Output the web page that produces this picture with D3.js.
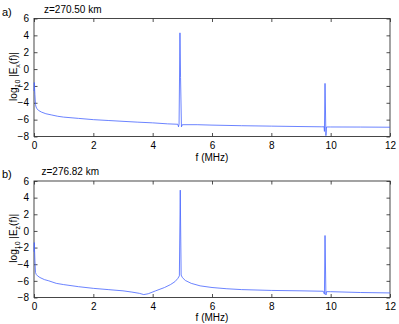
<!DOCTYPE html>
<html><head><meta charset="utf-8">
<script src="https://cdn.jsdelivr.net/npm/d3@7"></script>
<style>
body{margin:0;background:#fff;}
text{font-family:"Liberation Sans",Arial,sans-serif;fill:#000;}
</style></head>
<body><svg id="c" width="399" height="324"></svg>
<script>
const xTicks=[0,2,4,6,8,10,12];
const yTicks=[-8,-6,-4,-2,0,2,4,6];
const panelLabels=["a)","b)"];
const titles=["z=270.50 km","z=276.82 km"];
const compLabels=["x","z"];
const freqA=[0,0.01,0.03,0.05,0.07,0.1,0.15,0.25,0.4,0.6,0.8,1.0,1.5,2.0,2.5,3.0,3.5,4.0,4.5,4.85,4.87,4.89,4.92,4.94,4.97,5.0,5.5,6,7,8,9,9.7,9.78,9.79,9.81,9.84,9.86,10,11,12];
const valA=[-2.6,-1.6,-3.0,-4.2,-4.5,-4.7,-4.9,-5.1,-5.3,-5.45,-5.6,-5.7,-5.85,-6.0,-6.1,-6.2,-6.3,-6.38,-6.5,-6.55,-6.85,-6.55,4.3,-1,-6.85,-6.6,-6.6,-6.65,-6.72,-6.77,-6.82,-6.85,-6.85,-7.4,-1.7,-7.9,-6.87,-6.87,-6.88,-6.9];
const freqB=[0,0.01,0.03,0.05,0.08,0.12,0.2,0.35,0.5,0.75,1.0,1.5,2.0,2.5,3.0,3.3,3.55,3.7,3.85,4.1,4.4,4.6,4.75,4.85,4.9,4.93,4.96,5.0,5.1,5.3,5.6,6.0,6.5,7.0,8.0,9.0,9.75,9.79,9.81,9.84,9.86,10.0,11.0,12.0];
const valB=[-2.5,-1.4,-3.5,-5.0,-5.25,-5.4,-5.6,-5.85,-6.0,-6.3,-6.45,-6.7,-6.9,-7.05,-7.2,-7.35,-7.5,-7.65,-7.55,-7.2,-6.8,-6.45,-6.1,-5.7,-5.4,4.9,-5.3,-5.6,-5.95,-6.3,-6.6,-6.8,-6.95,-7.05,-7.15,-7.2,-7.25,-7.6,-0.55,-7.7,-7.3,-7.3,-7.4,-7.45];

const svg=d3.select("#c");
const L=34,R=390;
const panels=[
 {top:18.5,bot:136.5,f:freqA,v:valA,tb:13,pb:16,tx:44,xlab:161},
 {top:181,bot:297.5,f:freqB,v:valB,tb:175,pb:178,tx:41.5,xlab:321}
];
panels.forEach((p,i)=>{
  const x=d3.scaleLinear().domain([0,12]).range([L,R]);
  const y=d3.scaleLinear().domain([-8,6]).range([p.bot,p.top]);
  const g=svg.append("g");
  const tl=3.5;
  const ax=[
    d3.axisBottom(x).tickValues(xTicks).tickSizeInner(-tl).tickSizeOuter(0).tickPadding(5),
    d3.axisTop(x).tickValues(xTicks).tickSizeInner(-tl).tickSizeOuter(0).tickFormat(""),
    d3.axisLeft(y).tickValues(yTicks).tickSizeInner(-tl).tickSizeOuter(0).tickPadding(5).tickFormat(d=>d<0?"\u2212"+Math.abs(d):d),
    d3.axisRight(y).tickValues(yTicks).tickSizeInner(-tl).tickSizeOuter(0).tickFormat("")
  ];
  const pos=[[0,p.bot],[0,p.top],[L,0],[R,0]];
  ax.forEach((a,k)=>{
    const ag=g.append("g").attr("transform",`translate(${pos[k][0]},${pos[k][1]})`).call(a);
    ag.select(".domain").remove();
    ag.selectAll("line").attr("stroke","#222").attr("stroke-width",0.8);
    ag.selectAll("text").attr("font-size",10).attr("fill","#000").style("font-family","'Liberation Sans',Arial,sans-serif");
  });
  g.append("rect").attr("x",L).attr("y",p.top).attr("width",R-L).attr("height",p.bot-p.top)
   .attr("fill","none").attr("stroke","#333").attr("stroke-width",0.9);
  const line=d3.line().x((d,j)=>x(p.f[j])).y(d=>y(d));
  g.append("path").datum(p.v).attr("d",line).attr("fill","none")
   .attr("stroke","#4563ff").attr("stroke-width",0.8).attr("stroke-linejoin","miter");
  svg.append("text").attr("x",2).attr("y",p.pb).attr("font-size",11).text(panelLabels[i]);
  svg.append("text").attr("x",p.tx).attr("y",p.tb).attr("font-size",10).text(titles[i]);
  svg.append("text").attr("x",212).attr("y",p.xlab).attr("text-anchor","middle").attr("font-size",10).text("f (MHz)");
  const yl=svg.append("text").attr("transform",`translate(17,${(p.top+p.bot)/2-1}) rotate(-90)`)
    .attr("text-anchor","middle").attr("font-size",10);
  yl.append("tspan").text("log");
  yl.append("tspan").attr("font-size",7).attr("dy",3).text("10");
  yl.append("tspan").attr("dy",-3).text(" |E");
  yl.append("tspan").attr("font-size",7).attr("dy",3).text(compLabels[i]);
  yl.append("tspan").attr("dy",-3).text("(f)|");
});
</script></body></html>
